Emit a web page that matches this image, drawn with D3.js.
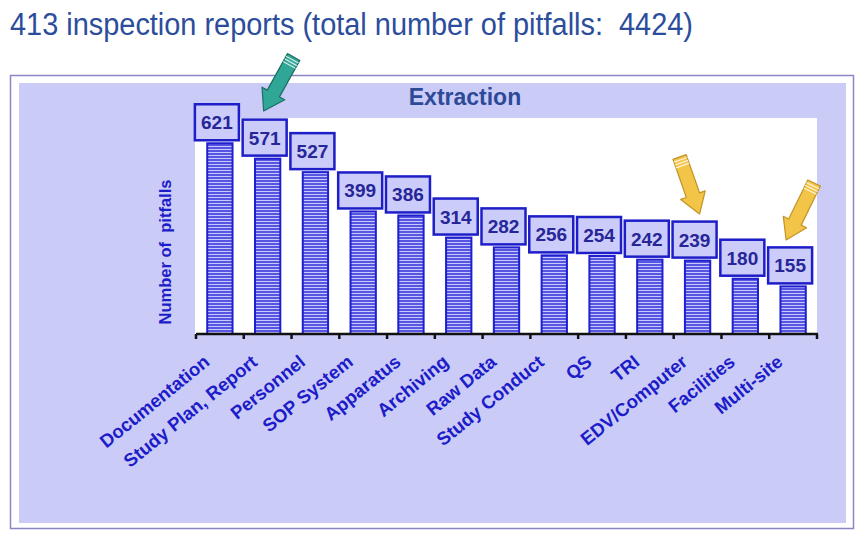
<!DOCTYPE html>
<html><head><meta charset="utf-8">
<script src="https://cdn.jsdelivr.net/npm/d3@7/dist/d3.min.js"></script>
<style>body{margin:0;background:#fff}svg{display:block}text{white-space:pre}</style>
</head><body>
<svg id="c" width="866" height="539"></svg>
<script>
const categories = ["Documentation","Study Plan, Report","Personnel","SOP System","Apparatus","Archiving","Raw Data","Study Conduct","QS","TRI","EDV/Computer","Facilities","Multi-site"];
const values = [621,571,527,399,386,314,282,256,254,242,239,180,155];
const yDomain = [0, 700];
const titleText = "413 inspection reports (total number of pitfalls:  4424)";
const chartTitle = "Extraction";
const yLabel = "Number of  pitfalls";

const svg = d3.select("#c");
const defs = svg.append("defs");
const pat = defs.append("pattern").attr("id","stripes").attr("patternUnits","userSpaceOnUse")
  .attr("width",8).attr("height",3);
pat.append("rect").attr("width",8).attr("height",3).attr("fill","#5656e2");
pat.append("rect").attr("y",2).attr("width",8).attr("height",1).attr("fill","#c8c8fa");

// Title
svg.append("text").attr("x",10).attr("y",35)
  .attr("font-family","Liberation Sans, Arial, sans-serif").attr("font-size",31)
  .attr("fill","#2b4d9c").attr("textLength",683).attr("lengthAdjust","spacingAndGlyphs")
  .text(titleText);

// frame
svg.append("rect").attr("x",10.5).attr("y",75.5).attr("width",843).attr("height",453)
  .attr("fill","#fff").attr("stroke","#8a86c6").attr("stroke-width",1.5);
svg.append("rect").attr("x",19).attr("y",83).attr("width",827).attr("height",440)
  .attr("fill","#cbcbf8");

const x0 = 196, x1 = 817, yBase = 334, yTop = 119;
const x = d3.scaleBand().domain(categories).range([x0,x1]).paddingInner(0.47).paddingOuter(0.235);
const y = d3.scaleLinear().domain(yDomain).range([yBase,yTop]);

// plot white area
svg.append("rect").attr("x",x0-1).attr("y",y(yDomain[1])-1).attr("width",x1-x0+1).attr("height",yBase-y(yDomain[1])+1)
  .attr("fill","#ffffff");

// chart title
svg.append("text").attr("x",465).attr("y",105).attr("text-anchor","middle")
  .attr("font-family","Liberation Sans, Arial, sans-serif").attr("font-weight","bold").attr("font-size",23)
  .attr("fill","#2c4a98").text(chartTitle);

// bars
svg.append("g").selectAll("rect").data(values).join("rect")
  .attr("x",(d,i)=>x(categories[i]))
  .attr("y",d=>y(d))
  .attr("width",x.bandwidth())
  .attr("height",d=>yBase-y(d))
  .attr("fill","url(#stripes)").attr("stroke","#1f1fd0").attr("stroke-width",2);

// x axis
const xAxisG = svg.append("g").attr("transform",`translate(0,${yBase})`);
const tickPos = d3.range(categories.length+1).map(i=>x0 + i*x.step());
xAxisG.append("line").attr("x1",x0).attr("x2",x1+1).attr("stroke","#111").attr("stroke-width",2.5);
xAxisG.selectAll("line.t").data(tickPos).join("line").attr("class","t")
  .attr("x1",d=>d).attr("x2",d=>d).attr("y1",0).attr("y2",5).attr("stroke","#111").attr("stroke-width",2.5);

// category labels
svg.append("g").selectAll("text").data(categories).join("text")
  .attr("transform",(d)=>`translate(${x(d)+x.bandwidth()/2-9},${yBase+30}) rotate(-39)`)
  .attr("text-anchor","end")
  .attr("font-family","Liberation Sans, Arial, sans-serif").attr("font-weight","bold").attr("font-size",18.5)
  .attr("fill","#1c1cc8").text(d=>d);

// y label
svg.append("text").attr("transform",`translate(171,252) rotate(-90)`).attr("text-anchor","middle")
  .attr("font-family","Liberation Sans, Arial, sans-serif").attr("font-weight","bold").attr("font-size",16.5)
  .attr("fill","#1c1cc8").text(yLabel);

// value boxes
const bw = 44, bh = 36;
const lg = svg.append("g").selectAll("g").data(values).join("g")
  .attr("transform",(d,i)=>`translate(${x(categories[i])+x.bandwidth()/2-3},${y(d)-3})`);
lg.append("rect").attr("x",-bw/2).attr("y",-bh).attr("width",bw).attr("height",bh)
  .attr("fill","#ccccfa").attr("stroke","#1e1ec8").attr("stroke-width",2.5);
lg.append("text").attr("y",-bh/2+7).attr("text-anchor","middle")
  .attr("font-family","Liberation Sans, Arial, sans-serif").attr("font-weight","bold").attr("font-size",19)
  .attr("fill","#262698").text(d=>d);

// block arrows
function arrow(x1,y1,x2,y2,fill,stroke){
  const L = Math.hypot(x2-x1,y2-y1), ang = Math.atan2(y2-y1,x2-x1)*180/Math.PI;
  const w = 7, hw = 13, hl = 20;
  const g = svg.append("g").attr("transform",`translate(${x1},${y1}) rotate(${ang})`);
  const pts = [[0,-w],[L-hl,-w],[L-hl,-hw],[L,0],[L-hl,hw],[L-hl,w],[0,w]];
  g.append("polygon").attr("points",pts.map(p=>p.join(",")).join(" "))
    .attr("fill",fill).attr("stroke",stroke).attr("stroke-width",1.2).attr("stroke-linejoin","round");
  [3,6,9].forEach(t=>g.append("line").attr("x1",t).attr("x2",t).attr("y1",-w).attr("y2",w)
    .attr("stroke","#fff").attr("stroke-opacity",0.8).attr("stroke-width",1.2));
}
function anchorOf(cat){ return x(cat)+x.bandwidth()/2; }
arrow(anchorOf("Study Plan, Report")+26,57, anchorOf("Study Plan, Report")-4,111, "#2fa696","#1c6e63");
arrow(anchorOf("EDV/Computer")-18,157, anchorOf("EDV/Computer")+2,214, "#f2c448","#c39426");
arrow(anchorOf("Multi-site")+21,183, anchorOf("Multi-site")-7,240, "#f2c448","#c39426");
</script>
</body></html>
